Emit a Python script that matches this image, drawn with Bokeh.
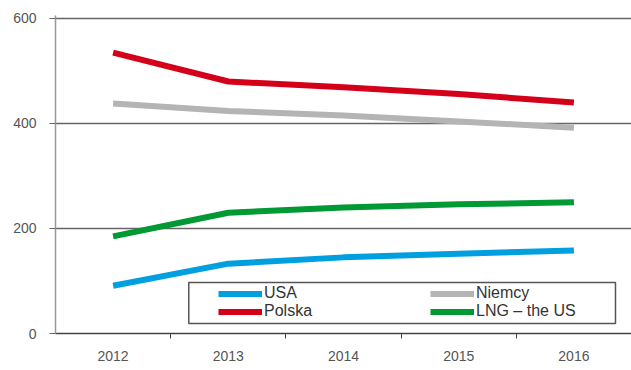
from bokeh.plotting import figure
from bokeh.models import FixedTicker, Range1d, Legend, LegendItem, BoxAnnotation
from bokeh.embed import file_html
from bokeh.resources import INLINE

years = [2012, 2013, 2014, 2015, 2016]
year_labels = ["2012", "2013", "2014", "2015", "2016"]
usa = [91, 133, 145, 152, 158]
polska = [535, 480, 469, 456, 440]
niemcy = [438, 424, 415, 404, 392]
lng = [185, 230, 240, 246, 250]
y_ticks = [0, 200, 400, 600]

p = figure(width=631, height=370, output_backend="svg", toolbar_location=None,
           x_range=Range1d(2011.5, 2016.5), y_range=Range1d(0, 605.7),
           min_border_left=55, min_border_right=0, min_border_top=15, min_border_bottom=37)
p.outline_line_color = None
p.background_fill_color = "white"
p.border_fill_color = "white"

font = "Liberation Sans"

p.xgrid.grid_line_color = None
p.ygrid.ticker = FixedTicker(ticks=[200, 400, 600])
p.ygrid.grid_line_color = "#666666"
p.ygrid.grid_line_width = 1.5

p.xaxis.ticker = FixedTicker(ticks=years, minor_ticks=[2012.5, 2013.5, 2014.5, 2015.5])
p.xaxis.major_label_overrides = {y: l for y, l in zip(years, year_labels)}
p.xaxis.major_tick_line_color = None
p.xaxis.minor_tick_line_color = "#444444"
p.xaxis.minor_tick_out = 5
p.xaxis.minor_tick_in = 0
p.xaxis.axis_line_color = "#444444"
p.xaxis.axis_line_width = 1.5
p.xaxis.major_label_standoff = 11
p.xaxis.major_label_text_font = font
p.xaxis.major_label_text_font_size = "14px"
p.xaxis.major_label_text_color = "#555555"

p.yaxis.ticker = FixedTicker(ticks=y_ticks)
p.yaxis.minor_tick_line_color = None
p.yaxis.major_tick_line_color = "#666666"
p.yaxis.major_tick_out = 6
p.yaxis.major_tick_in = 0
p.yaxis.axis_line_color = "#999999"
p.yaxis.axis_line_width = 1.5
p.yaxis.major_label_text_font = font
p.yaxis.major_label_text_font_size = "14px"
p.yaxis.major_label_text_color = "#555555"
p.yaxis.major_label_standoff = 13

lw = 6
r_usa = p.line(years, usa, line_color="#00a0e0", line_width=lw)
r_pol = p.line(years, polska, line_color="#d4001a", line_width=lw)
r_nie = p.line(years, niemcy, line_color="#b4b4b4", line_width=lw)
r_lng = p.line(years, lng, line_color="#009933", line_width=lw)

# legend frame
box = BoxAnnotation(left=2012.657, right=2016.361, bottom=19.0, top=97.1,
                    fill_color="white", fill_alpha=1, line_color="#555555",
                    line_alpha=1, line_width=1.5)
p.add_layout(box)

legend = Legend(items=[
    LegendItem(label="USA", renderers=[r_usa]),
    LegendItem(label="Polska", renderers=[r_pol]),
    LegendItem(label="Niemcy", renderers=[r_nie]),
    LegendItem(label="LNG \u2013 the US", renderers=[r_lng]),
], ncols=2, location=(163, 13))
legend.label_text_font = font
legend.label_text_font_size = "16px"
legend.label_text_color = "#333333"
legend.label_width = 166
legend.label_height = 15
legend.glyph_width = 44
legend.glyph_height = 15
legend.spacing = 0
legend.padding = 0
legend.margin = 0
legend.label_standoff = 2
legend.border_line_color = None
legend.background_fill_alpha = 0
p.add_layout(legend)

open("out.html", "w").write(file_html(p, INLINE))
